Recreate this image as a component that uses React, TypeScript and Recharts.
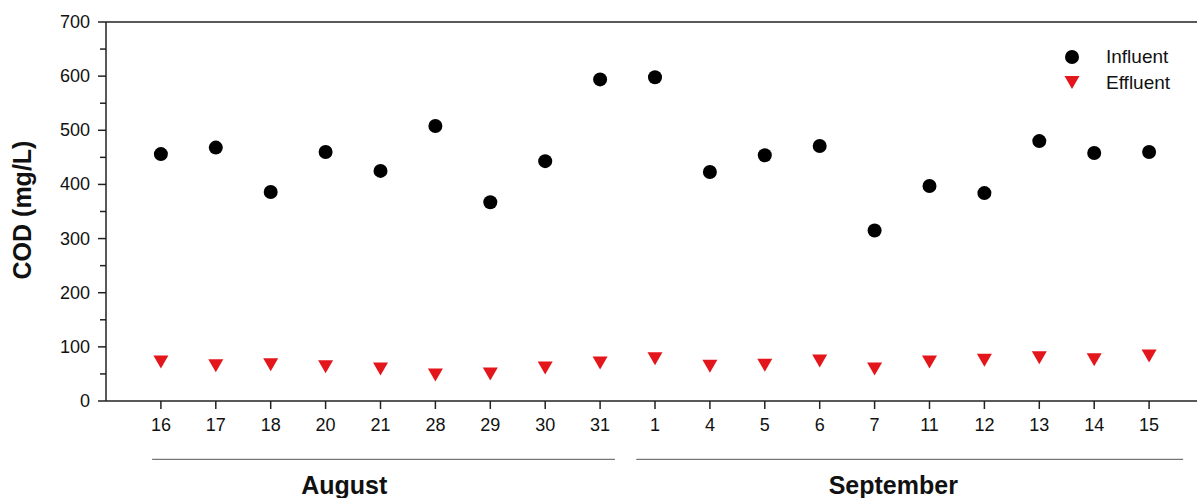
import React from 'react';
import { ScatterChart, Scatter, XAxis, YAxis, ReferenceLine } from 'recharts';

// sampling days (August 16 .. September 15)
const days = ['16', '17', '18', '20', '21', '28', '29', '30', '31', '1', '4', '5', '6', '7', '11', '12', '13', '14', '15'];
const influent = [456, 468, 386, 460, 425, 508, 367, 443, 594, 598, 423, 454, 471, 315, 397, 384, 480, 458, 460];
const effluent = [73, 66, 68, 64, 60, 49, 51, 62, 71, 79, 65, 67, 75, 60, 73, 76, 81, 77, 84];
const yTicks = [0, 50, 100, 150, 200, 250, 300, 350, 400, 450, 500, 550, 600, 650, 700];
const months = ['August', 'September'];

// bracket spans & label centres, in x-axis units
const monthSpans = [[0.84, 9.27], [9.66, 19.62]];
const monthCenters = [4.34, 14.34];

const FONT = '"Liberation Sans", Arial, sans-serif';
const AXIS_X = 106;

const influentData = days.map((d, i) => ({ x: i + 1, y: influent[i], day: d }));
const effluentData = days.map((d, i) => ({ x: i + 1, y: effluent[i], day: d }));

const Dot = (props: any) => <circle cx={props.cx} cy={props.cy} r={7} fill="#000" />;

const DownTri = (props: any) => {
  const { cx, cy } = props;
  return <polygon points={`${cx - 7.5},${cy - 6} ${cx + 7.5},${cy - 6} ${cx},${cy + 7}`} fill="#e3161c" />;
};

const YTick = (props: any) => {
  const { y, payload } = props;
  const major = payload.value % 100 === 0;
  return (
    <g>
      <line x1={AXIS_X - (major ? 8 : 6)} x2={AXIS_X} y1={y} y2={y} stroke="#222" strokeWidth={1.5} />
      {major && (
        <text x={AXIS_X - 16} y={y} dy={6} textAnchor="end" fontSize={18} fontFamily={FONT} fill="#111">
          {payload.value}
        </text>
      )}
    </g>
  );
};

const LegendBox = () => (
  <g fontFamily={FONT} fontSize={19} fill="#111">
    <circle cx={1072} cy={57} r={7} fill="#000" />
    <text x={1106} y={63}>Influent</text>
    <polygon points="1064.5,76 1079.5,76 1072,89" fill="#e3161c" />
    <text x={1106} y={89}>Effluent</text>
  </g>
);

export default function App() {
  return (
    <div style={{ position: 'absolute', left: 0, top: 0, width: 1197, height: 498, overflow: 'hidden', background: '#fff' }}>
      <ScatterChart width={1204} height={498} margin={{ top: 22, right: 0, bottom: 0, left: 0 }}>
        <XAxis
          type="number"
          dataKey="x"
          domain={[0, 20]}
          ticks={days.map((_, i) => i + 1)}
          tickFormatter={(v: number) => days[v - 1]}
          allowDataOverflow
          height={97}
          stroke="#222"
          strokeWidth={1.5}
          tickSize={8}
          tickMargin={9}
          tick={{ fontSize: 18, fontFamily: FONT, fill: '#111' }}
        />
        <YAxis
          type="number"
          dataKey="y"
          domain={[0, 700]}
          ticks={yTicks}
          interval={0}
          width={AXIS_X}
          stroke="#222"
          strokeWidth={1.5}
          tickLine={false}
          tick={<YTick />}
          label={{
            content: () => (
              <text
                transform="translate(31,210) rotate(-90)"
                textAnchor="middle"
                fontSize={25}
                fontWeight="bold"
                fontFamily={FONT}
                fill="#111"
              >
                COD (mg/L)
              </text>
            ),
          }}
        />
        <ReferenceLine y={700} stroke="#222" strokeWidth={1.5} />
        {months.map((m, i) => (
          <ReferenceLine
            key={m}
            segment={[{ x: monthSpans[i][0], y: -108 }, { x: monthSpans[i][1], y: -108 }]}
            ifOverflow="visible"
            stroke="#777"
            strokeWidth={1.3}
          />
        ))}
        {months.map((m, i) => (
          <ReferenceLine
            key={m + '-label'}
            segment={[{ x: monthCenters[i] - 0.01, y: -108 }, { x: monthCenters[i] + 0.01, y: -108 }]}
            ifOverflow="visible"
            stroke="none"
            label={{
              content: (p: any) => {
                const vb = p.viewBox || {};
                const cx = (vb.x || 0) + (vb.width || 0) / 2;
                return (
                  <text x={cx} y={494} textAnchor="middle" fontSize={25} fontWeight="bold" fontFamily={FONT} fill="#111">
                    {m}
                  </text>
                );
              },
            }}
          />
        ))}
        <Scatter name="Influent" data={influentData} shape={Dot} isAnimationActive={false} />
        <Scatter name="Effluent" data={effluentData} shape={DownTri} isAnimationActive={false} />
        <LegendBox />
      </ScatterChart>
    </div>
  );
}
